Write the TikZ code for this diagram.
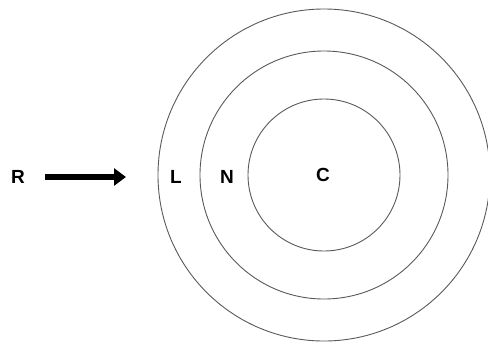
\documentclass[tikz,border=0pt]{standalone}
\usepackage{fontspec}
\setmainfont{Liberation Sans}
\usetikzlibrary{arrows.meta}
\begin{document}
\begin{tikzpicture}[x=1pt,y=-1pt,
  ring/.style={draw=black!65,line width=0.9pt},
  letter/.style={font=\fontsize{19}{19}\selectfont\bfseries,inner sep=0pt}]
\useasboundingbox (0,0) rectangle (488,341);
% concentric rings
\coordinate (ctr) at (324,175);
\draw[ring] (ctr) circle[radius=166];
\draw[ring] (ctr) circle[radius=124];
\draw[ring] (ctr) circle[radius=76];
% labels
\node[letter] (R) at (18,177) {R};
\node[letter] (L) at (176,177) {L};
\node[letter] (N) at (227,177) {N};
\node[letter] (C) at (323,175) {C};
% incoming arrow
\coordinate (a0) at (45,177);
\coordinate (a1) at (126,177);
\draw[line width=6pt,-{Triangle[length=12pt,width=17pt]}] (a0) -- (a1);
\end{tikzpicture}
\end{document}
